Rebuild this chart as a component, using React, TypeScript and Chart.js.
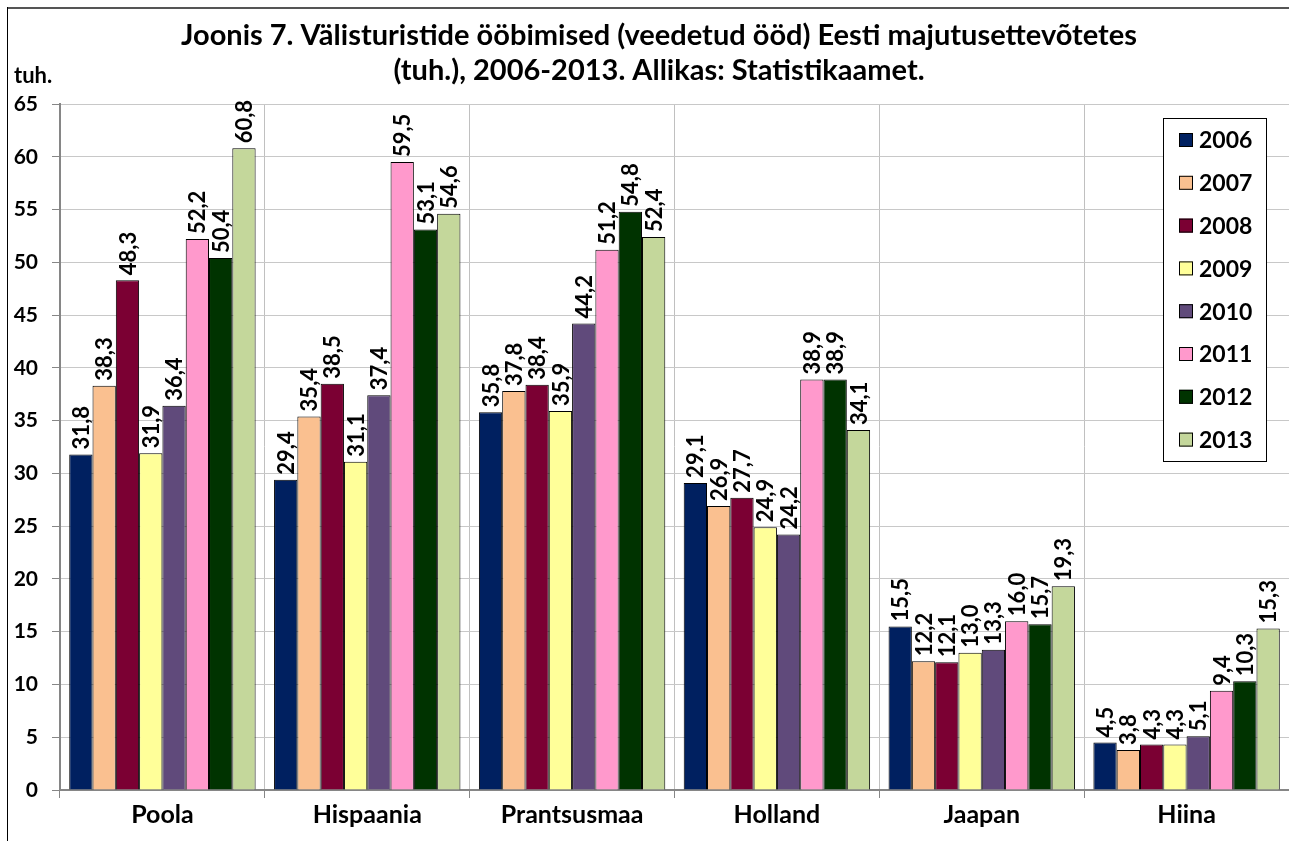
import React, { useEffect, useRef } from "react";
import { Chart, registerables } from "chart.js";

Chart.register(...registerables);

const categories = ["Poola", "Hispaania", "Prantsusmaa", "Holland", "Jaapan", "Hiina"];
const years = ["2006", "2007", "2008", "2009", "2010", "2011", "2012", "2013"];
const v2006 = [31.8, 29.4, 35.8, 29.1, 15.5, 4.5];
const v2007 = [38.3, 35.4, 37.8, 26.9, 12.2, 3.8];
const v2008 = [48.3, 38.5, 38.4, 27.7, 12.1, 4.3];
const v2009 = [31.9, 31.1, 35.9, 24.9, 13.0, 4.3];
const v2010 = [36.4, 37.4, 44.2, 24.2, 13.3, 5.1];
const v2011 = [52.2, 59.5, 51.2, 38.9, 16.0, 9.4];
const v2012 = [50.4, 53.1, 54.8, 38.9, 15.7, 10.3];
const v2013 = [60.8, 54.6, 52.4, 34.1, 19.3, 15.3];
const seriesValues = [v2006, v2007, v2008, v2009, v2010, v2011, v2012, v2013];
const colors = ["#002060", "#FAC090", "#7B0033", "#FFFF99", "#604A7B", "#FF99CC", "#003300", "#C4D79B"];
const titleLines = [
  "Joonis 7. Välisturistide ööbimised (veedetud ööd) Eesti majutusettevõtetes",
  "(tuh.), 2006-2013. Allikas: Statistikaamet.",
];
const unitLabel = "tuh.";

const FONT = "Lato, 'Noto Sans', sans-serif";

export default function App() {
  const ref = useRef<HTMLCanvasElement | null>(null);
  useEffect(() => {
    if (!ref.current) return;
    const decor = {
      id: "decor",
      beforeDraw(chart: any) {
        const ctx = chart.ctx;
        ctx.save();
        ctx.fillStyle = "#fff";
        ctx.fillRect(0, 0, chart.width, chart.height);
        ctx.strokeStyle = "#555";
        ctx.lineWidth = 2;
        ctx.beginPath();
        ctx.moveTo(7, 8);
        ctx.lineTo(chart.width, 8);
        ctx.stroke();
        ctx.strokeStyle = "#000";
        ctx.lineWidth = 1;
        ctx.beginPath();
        ctx.moveTo(7.5, 7);
        ctx.lineTo(7.5, chart.height);
        ctx.stroke();
        ctx.fillStyle = "#000";
        ctx.font = `bold 29px ${FONT}`;
        ctx.textAlign = "center";
        ctx.textBaseline = "middle";
        ctx.fillText(titleLines[0], 659, 36);
        ctx.fillText(titleLines[1], 659, 71);
        ctx.font = `bold 22px ${FONT}`;
        ctx.textAlign = "left";
        ctx.fillText(unitLabel, 14, 76);
        ctx.restore();
      },
      afterDatasetsDraw(chart: any) {
        const ctx = chart.ctx;
        ctx.save();
        ctx.fillStyle = "#000";
        ctx.font = `bold 22px ${FONT}`;
        ctx.textAlign = "left";
        ctx.textBaseline = "middle";
        chart.data.datasets.forEach((ds: any, i: number) => {
          const meta = chart.getDatasetMeta(i);
          meta.data.forEach((el: any, j: number) => {
            const v = ds.data[j] as number;
            ctx.save();
            ctx.translate(el.x, el.y - 5);
            ctx.rotate(-Math.PI / 2);
            ctx.fillText(v.toFixed(1).replace(".", ","), 0, 1);
            ctx.restore();
          });
        });
        ctx.restore();
      },
      afterDraw(chart: any) {
        const ctx = chart.ctx;
        ctx.save();
        const bx = 1163.5, by = 118.5, bw = 103, bh = 343;
        ctx.fillStyle = "#fff";
        ctx.fillRect(bx, by, bw, bh);
        ctx.strokeStyle = "#000";
        ctx.lineWidth = 1;
        ctx.strokeRect(bx, by, bw, bh);
        ctx.font = `bold 23px ${FONT}`;
        ctx.textAlign = "left";
        ctx.textBaseline = "middle";
        chart.data.datasets.forEach((ds: any, i: number) => {
          const cy = 140 + i * 42.8;
          ctx.fillStyle = ds.backgroundColor;
          ctx.fillRect(1179, cy - 7, 14, 14);
          ctx.strokeStyle = "#000";
          ctx.strokeRect(1179.5, cy - 6.5, 13, 13);
          ctx.fillStyle = "#000";
          ctx.fillText(ds.label, 1199, cy + 1);
        });
        ctx.restore();
      },
    };
    const chart = new Chart(ref.current, {
      type: "bar",
      data: {
        labels: categories,
        datasets: years.map((y, i) => ({
          label: y,
          data: seriesValues[i],
          backgroundColor: colors[i],
          borderColor: "#000",
          borderWidth: 1,
          categoryPercentage: 0.91,
          barPercentage: 1.0,
        })),
      },
      options: {
        animation: false,
        responsive: false,
        maintainAspectRatio: false,
        layout: { padding: { top: 104, left: 0, right: 0, bottom: 0 } },
        plugins: {
          legend: { display: false },
          title: { display: false },
          tooltip: { enabled: false },
        },
        scales: {
          x: {
            offset: true,
            grid: { offset: true, color: "#c0c0c0", tickColor: "#868686", tickLength: 8, drawTicks: true },
            border: { color: "#868686", width: 2 },
            ticks: { color: "#000", font: { family: FONT, size: 25, weight: "bold" }, padding: 2 },
            afterFit: (s: any) => { s.height = 51; },
          },
          y: {
            min: 0,
            max: 65,
            ticks: { stepSize: 5, color: "#000", font: { family: FONT, size: 21, weight: "bold" }, padding: 14 },
            grid: { color: "#c8c8c8", tickColor: "#868686", tickLength: 8 },
            border: { color: "#868686", width: 2 },
            afterFit: (s: any) => { s.width = 60; },
          },
        },
      },
      plugins: [decor],
    });
    return () => chart.destroy();
  }, []);
  return (
    <div style={{ position: "absolute", left: 0, top: 0, width: 1289, height: 841 }}>
      <canvas ref={ref} width={1289} height={841} style={{ width: 1289, height: 841, display: "block" }} />
    </div>
  );
}
